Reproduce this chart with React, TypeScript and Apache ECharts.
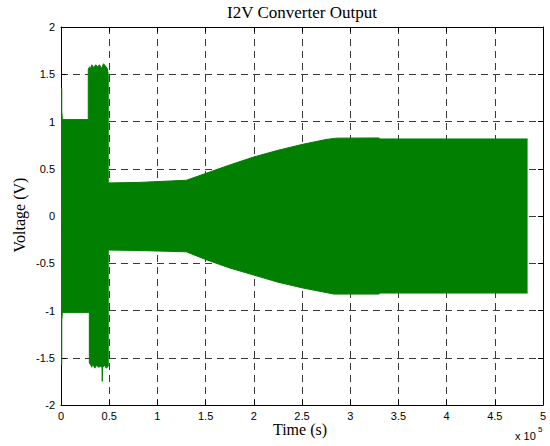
import React, { useEffect, useRef } from "react";
import * as echarts from "echarts";

// Envelope of the converter output (time in seconds, voltage in volts)
const upperTime = [
  0, 800, 800, 1500, 1500, 28300, 28300, 30000, 31000, 32000, 34000, 36000,
  38000, 40000, 42000, 44000, 46000, 48000, 49000, 49000, 80000, 130000,
  150000, 175000, 200000, 225000, 250000, 275000, 286000, 330000, 330000, 484000,
];
const upperVolt = [
  1.35, 1.35, 1.1, 1.1, 1.02, 1.02, 1.555, 1.58, 1.55, 1.6, 1.57, 1.6,
  1.58, 1.6, 1.56, 1.61, 1.59, 1.56, 1.5, 0.35, 0.355, 0.378,
  0.45, 0.54, 0.625, 0.695, 0.757, 0.81, 0.824, 0.826, 0.815, 0.815,
];
const lowerTime = [
  0, 800, 800, 1500, 1500, 29400, 29400, 31000, 32000, 33000, 35000, 37000,
  39000, 41000, 42500, 42800, 43300, 45000, 47000, 49000, 49000, 80000, 130000,
  150000, 175000, 200000, 225000, 250000, 275000, 283000, 330000, 330000, 484000,
];
const lowerVolt = [
  -1.57, -1.57, -1.1, -1.1, -1.02, -1.02, -1.555, -1.58, -1.6, -1.56, -1.61, -1.58,
  -1.6, -1.59, -1.6, -1.75, -1.6, -1.58, -1.61, -1.59, -0.36, -0.365, -0.379,
  -0.46, -0.55, -0.625, -0.7, -0.76, -0.81, -0.826, -0.826, -0.815, -0.815,
];

const xTicks = [0, 0.5, 1, 1.5, 2, 2.5, 3, 3.5, 4, 4.5, 5];
const yTicks = [-2, -1.5, -1, -0.5, 0, 0.5, 1, 1.5, 2];

const GREEN = "#007f00";
const SERIF = "'Liberation Serif', 'Times New Roman', serif";
const SANS = "'Liberation Sans', Arial, sans-serif";

export default function App() {
  const ref = useRef<HTMLDivElement>(null);

  useEffect(() => {
    if (!ref.current) return;
    const chart = echarts.init(ref.current, undefined, { renderer: "svg" });

    const upper = upperTime.map((t, i) => [t, upperVolt[i]]);
    const lower = lowerTime.map((t, i) => [t, lowerVolt[i]]);

    const gridLine = {
      show: true,
      lineStyle: { color: "#3a3a3a", width: 1, type: [7, 5] as number[] },
    };
    const axisLine = { show: true, onZero: false, lineStyle: { color: "#000", width: 1 } };
    const axisTick = { show: true, inside: true, length: 5, lineStyle: { color: "#000" } };

    const xBase = {
      type: "value" as const,
      min: 0,
      max: 500000,
      interval: 50000,
      axisLine,
      axisTick,
    };
    const yBase = {
      type: "value" as const,
      min: -2,
      max: 2,
      interval: 0.5,
      axisLine,
      axisTick,
    };

    chart.setOption({
      animation: false,
      backgroundColor: "#fff",
      grid: { left: 61, right: 7, top: 27, bottom: 41, containLabel: false },
      xAxis: [
        {
          ...xBase,
          position: "bottom",
          splitLine: gridLine,
          axisLabel: {
            show: true,
            margin: 5,
            color: "#000",
            fontSize: 11,
            fontFamily: SANS,
            formatter: (v: number) => {
              const s = v / 100000;
              return xTicks.includes(s) ? String(s) : "";
            },
          },
        },
        {
          ...xBase,
          position: "top",
          splitLine: { show: false },
          axisLabel: { show: false },
        },
      ],
      yAxis: [
        {
          ...yBase,
          position: "left",
          splitLine: gridLine,
          axisLabel: {
            show: true,
            margin: 6,
            color: "#000",
            fontSize: 11,
            fontFamily: SANS,
            formatter: (v: number) => (yTicks.includes(v) ? String(v) : ""),
          },
        },
        {
          ...yBase,
          position: "right",
          splitLine: { show: false },
          axisLabel: { show: false },
        },
      ],
      series: [
        {
          type: "line",
          xAxisIndex: 0,
          yAxisIndex: 0,
          data: upper,
          symbol: "none",
          showSymbol: false,
          lineStyle: { color: GREEN, width: 1 },
          areaStyle: { color: GREEN, opacity: 1, origin: 0 },
          silent: true,
        },
        {
          type: "line",
          xAxisIndex: 0,
          yAxisIndex: 0,
          data: lower,
          symbol: "none",
          showSymbol: false,
          lineStyle: { color: GREEN, width: 1 },
          areaStyle: { color: GREEN, opacity: 1, origin: 0 },
          silent: true,
        },
      ],
      graphic: [
        {
          type: "text",
          x: 302,
          y: 12,
          style: {
            text: "I2V Converter Output",
            fill: "#000",
            font: `17px ${SERIF}`,
            textAlign: "center",
            textVerticalAlign: "middle",
          },
        },
        {
          type: "text",
          x: 300,
          y: 429,
          style: {
            text: "Time (s)",
            fill: "#000",
            font: `16px ${SERIF}`,
            textAlign: "center",
            textVerticalAlign: "middle",
          },
        },
        {
          type: "text",
          x: 19,
          y: 215,
          rotation: Math.PI / 2,
          style: {
            text: "Voltage (V)",
            fill: "#000",
            font: `16px ${SERIF}`,
            textAlign: "center",
            textVerticalAlign: "middle",
          },
        },
        {
          type: "text",
          x: 515,
          y: 436,
          style: {
            text: "x 10",
            fill: "#000",
            font: `11px ${SANS}`,
            textAlign: "left",
            textVerticalAlign: "middle",
          },
        },
        {
          type: "text",
          x: 538,
          y: 429,
          style: {
            text: "5",
            fill: "#000",
            font: `8px ${SANS}`,
            textAlign: "left",
            textVerticalAlign: "middle",
          },
        },
      ],
    });

    return () => chart.dispose();
  }, []);

  return (
    <div
      ref={ref}
      style={{ position: "fixed", left: 0, top: 0, width: 550, height: 446, background: "#fff" }}
    />
  );
}
